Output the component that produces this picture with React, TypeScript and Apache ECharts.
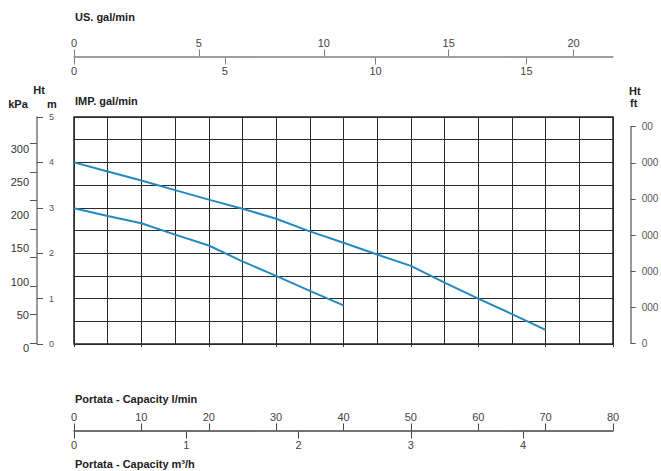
import React, { useEffect, useRef } from "react";
import * as echarts from "echarts";

// Pump curves: flow in l/min, head in m
const flowUpper = [0, 5, 10, 15, 20, 25, 30, 35, 40, 45, 50, 55, 60, 65, 70];
const headUpper = [4.0, 3.8, 3.6, 3.39, 3.18, 2.98, 2.76, 2.48, 2.23, 1.97, 1.72, 1.35, 1.0, 0.66, 0.31];
const flowLower = [0, 5, 10, 15, 20, 25, 30, 35, 40];
const headLower = [2.99, 2.82, 2.66, 2.41, 2.17, 1.82, 1.5, 1.17, 0.85];

// Tick labels
const lpmTicks = [0, 10, 20, 30, 40, 50, 60, 70, 80];
const m3hTicks = [0, 1, 2, 3, 4];
const usTicks = [0, 5, 10, 15, 20];
const impTicks = [0, 5, 10, 15];
const mTicks = [0, 1, 2, 3, 4, 5];
const kpaTicks = [0, 50, 100, 150, 200, 250, 300];
const kpaMinorTicks = [0, 1, 2, 3, 4, 5, 6, 7];
const ftTicks = [0, 1, 2, 3, 4, 5, 6];
const ftLabels = ["0", "000", "000", "000", "000", "000", "00"];

// Scale extents
const lpmMax = 80;
const headMax = 5;
const usMax = 21.58;
const impMax = 17.87;
const m3hMax = 4.8;
const kpaMax = 350;

const FONT = "'Liberation Sans', Arial, Helvetica, sans-serif";
const BLUE = "#2389c1";

export default function App() {
  const ref = useRef<HTMLDivElement>(null);
  useEffect(() => {
    if (!ref.current) return;
    const chart = echarts.init(ref.current, undefined, { renderer: "svg" });
    const hiddenX = (gridIndex: number) => ({ type: "value", gridIndex, show: false, min: 0, max: 1 });
    const hiddenY = (gridIndex: number) => ({ type: "value", gridIndex, show: false, min: 0, max: 1 });
    const titleText = (text: string, x: number, y: number, align = "left") => ({
      type: "text",
      x,
      y,
      style: {
        text,
        fill: "#222",
        fontFamily: FONT,
        fontSize: 11,
        fontWeight: "bold",
        align,
        verticalAlign: "middle",
      },
    });
    const option: any = {
      animation: false,
      backgroundColor: "#fff",
      textStyle: { fontFamily: FONT },
      grid: [
        { left: 74, top: 117, width: 539, height: 227, show: true, borderColor: "#222", borderWidth: 1.5, backgroundColor: "transparent" },
        { left: 37, top: 116.2, width: 1, height: 231.5 },
        { left: 37, top: 143.3, width: 1, height: 200 },
        { left: 630.7, top: 126.7, width: 1, height: 216.6 },
        { left: 74, top: 56.5, width: 539, height: 1 },
        { left: 74, top: 430.5, width: 539, height: 1 },
      ],
      xAxis: [
        {
          type: "value", gridIndex: 0, min: 0, max: lpmMax, interval: 5, position: "bottom",
          axisLine: { show: false, onZero: false }, axisTick: { show: false }, axisLabel: { show: false },
          splitLine: { show: true, lineStyle: { color: "#2a2a2a", width: 1 } },
        },
        {
          type: "value", gridIndex: 0, min: 0, max: lpmMax, interval: 10, position: "bottom",
          axisLine: { show: false, onZero: false }, axisLabel: { show: false }, splitLine: { show: false },
          axisTick: { show: true, length: 3, lineStyle: { color: "#333" } },
        },
        {
          type: "value", gridIndex: 4, min: 0, max: usMax, interval: 5, position: "top",
          axisLine: { show: true, onZero: false, lineStyle: { color: "#808080", width: 1.5 } },
          axisTick: { show: true, length: 7, customValues: usTicks, lineStyle: { color: "#808080" } },
          axisLabel: { show: true, margin: 8, fontSize: 11, color: "#444", customValues: usTicks, fontFamily: FONT },
          splitLine: { show: false },
        },
        {
          type: "value", gridIndex: 4, min: 0, max: impMax, interval: 5, position: "bottom",
          axisLine: { show: false, onZero: false },
          axisTick: { show: true, length: 7, customValues: impTicks, lineStyle: { color: "#808080" } },
          axisLabel: { show: true, margin: 8, fontSize: 11, color: "#444", customValues: impTicks, fontFamily: FONT },
          splitLine: { show: false },
        },
        {
          type: "value", gridIndex: 5, min: 0, max: lpmMax, interval: 10, position: "top",
          axisLine: { show: true, onZero: false, lineStyle: { color: "#444", width: 1.5 } },
          axisTick: { show: true, length: 7, customValues: lpmTicks, lineStyle: { color: "#444" } },
          axisLabel: { show: true, margin: 8, fontSize: 11, color: "#444", customValues: lpmTicks, fontFamily: FONT },
          splitLine: { show: false },
        },
        {
          type: "value", gridIndex: 5, min: 0, max: m3hMax, interval: 1, position: "bottom",
          axisLine: { show: false, onZero: false },
          axisTick: { show: true, length: 7, customValues: m3hTicks, lineStyle: { color: "#444" } },
          axisLabel: { show: true, margin: 8, fontSize: 11, color: "#444", customValues: m3hTicks, fontFamily: FONT },
          splitLine: { show: false },
        },
        hiddenX(1),
        hiddenX(2),
        hiddenX(3),
      ],
      yAxis: [
        {
          type: "value", gridIndex: 0, min: 0, max: headMax, interval: 0.5, position: "left",
          axisLine: { show: false, onZero: false }, axisTick: { show: false }, axisLabel: { show: false },
          splitLine: { show: true, lineStyle: { color: "#2a2a2a", width: 1 } },
        },
        {
          type: "value", gridIndex: 0, min: 0, max: headMax, interval: 1, position: "left", offset: 37,
          axisLine: { show: true, onZero: false, lineStyle: { color: "#777", width: 1.5 } },
          axisTick: { show: true, inside: true, length: 6, customValues: mTicks, lineStyle: { color: "#555" } },
          axisLabel: { show: true, inside: true, margin: 12, fontSize: 9, color: "#555", customValues: mTicks, fontFamily: FONT },
          splitLine: { show: false },
        },
        {
          type: "value", gridIndex: 1, min: 0, max: kpaMax, interval: 50, position: "left",
          axisLine: { show: false, onZero: false }, axisTick: { show: false },
          axisLabel: { show: true, margin: 8, fontSize: 11, color: "#333", customValues: kpaTicks, fontFamily: FONT },
          splitLine: { show: false },
        },
        {
          type: "value", gridIndex: 2, min: 0, max: 7, interval: 1, position: "left",
          axisLine: { show: false, onZero: false }, axisLabel: { show: false }, splitLine: { show: false },
          axisTick: { show: true, length: 7, customValues: kpaMinorTicks, lineStyle: { color: "#555" } },
        },
        {
          type: "value", gridIndex: 3, min: 0, max: 6, interval: 1, position: "left",
          axisLine: { show: true, onZero: false, lineStyle: { color: "#777", width: 1.5 } },
          axisTick: { show: true, inside: true, length: 5, customValues: ftTicks, lineStyle: { color: "#555" } },
          axisLabel: {
            show: true, inside: true, margin: 11, fontSize: 10, color: "#555", customValues: ftTicks, fontFamily: FONT,
            formatter: (v: number) => ftLabels[Math.round(v)] ?? "",
          },
          splitLine: { show: false },
        },
        hiddenY(4),
        hiddenY(5),
      ],
      series: [
        {
          type: "line", xAxisIndex: 0, yAxisIndex: 0, symbol: "none", smooth: false, z: 5,
          lineStyle: { color: BLUE, width: 2 },
          data: flowUpper.map((f, i) => [f, headUpper[i]]),
        },
        {
          type: "line", xAxisIndex: 0, yAxisIndex: 0, symbol: "none", smooth: false, z: 5,
          lineStyle: { color: BLUE, width: 2 },
          data: flowLower.map((f, i) => [f, headLower[i]]),
        },
      ],
      graphic: [
        titleText("US. gal/min", 75, 17),
        titleText("IMP. gal/min", 75, 101),
        titleText("Portata - Capacity l/min", 75, 399),
        titleText("Portata - Capacity m³/h", 75, 464),
        titleText("Ht", 39, 90, "center"),
        titleText("kPa", 18, 104, "center"),
        titleText("m", 52, 104, "center"),
        titleText("Ht", 629, 91),
        titleText("ft", 630, 103),
      ],
    };
    chart.setOption(option);
    return () => chart.dispose();
  }, []);
  return (
    <div
      ref={ref}
      style={{ position: "fixed", left: 0, top: 0, width: 661, height: 471, background: "#fff" }}
    />
  );
}
